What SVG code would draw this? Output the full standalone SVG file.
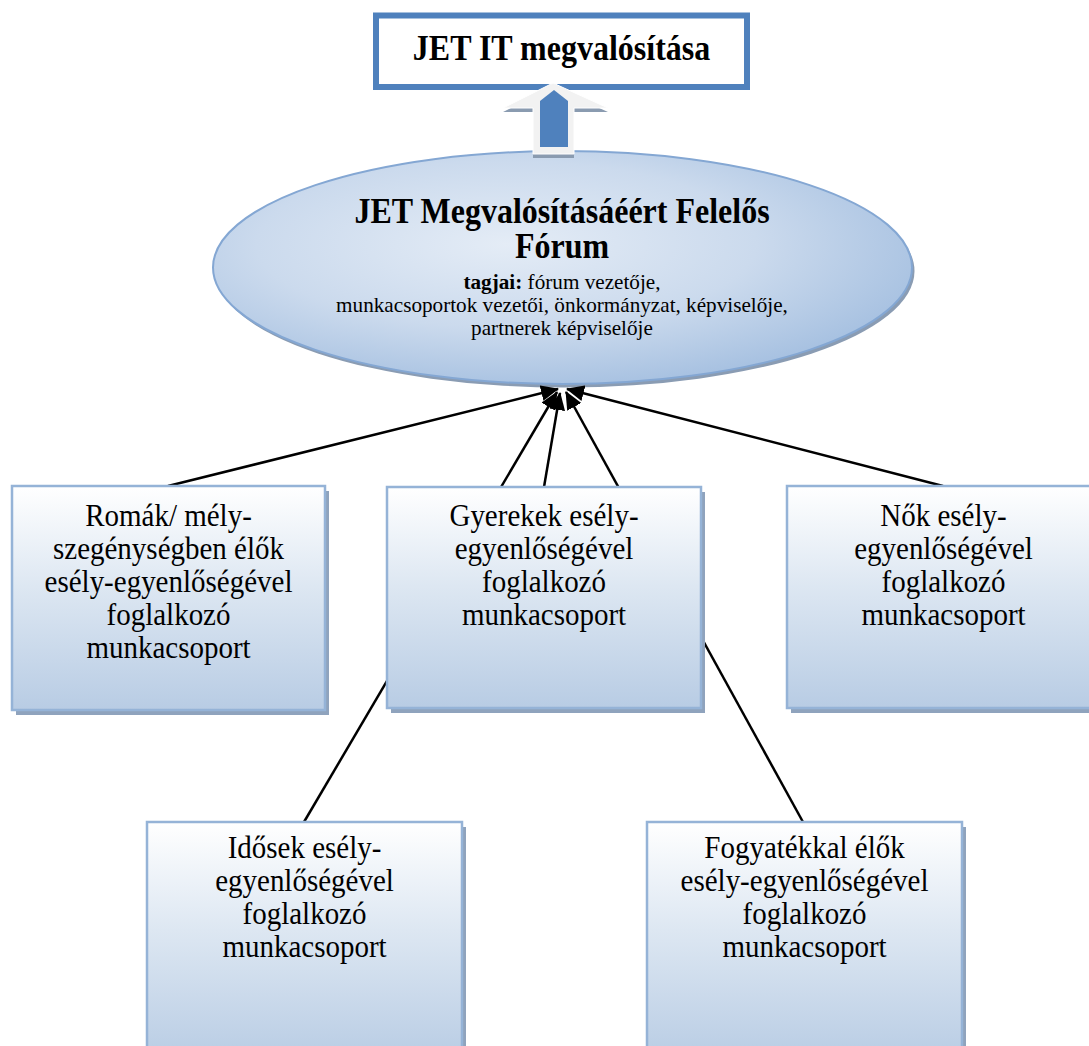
<svg xmlns="http://www.w3.org/2000/svg" width="1089" height="1046" viewBox="0 0 1089 1046">
<defs>
  <linearGradient id="boxGrad" x1="0" y1="0" x2="0" y2="1">
    <stop offset="0" stop-color="#ffffff"/>
    <stop offset="0.45" stop-color="#dde7f2"/>
    <stop offset="1" stop-color="#b8cce4"/>
  </linearGradient>
  <radialGradient id="ellGrad" cx="0.42" cy="0.4" r="0.65">
    <stop offset="0" stop-color="#e4ecf6"/>
    <stop offset="0.55" stop-color="#cbdaed"/>
    <stop offset="1" stop-color="#a4bfe0"/>
  </radialGradient>
  <marker id="ah" markerUnits="userSpaceOnUse" markerWidth="18" markerHeight="16" refX="17" refY="8" orient="auto">
    <path d="M0,0 L18,8 L0,16 z" fill="#000"/>
  </marker>
</defs>
<style>
  .shadow { fill: #8fa3bd; }
  .box { fill: url(#boxGrad); stroke: #95b3d7; stroke-width: 2.5; }
  .btxt { font-family: "Liberation Serif", "Times New Roman", serif; font-size: 29px; fill: #000; text-anchor: middle; }
  .conn { stroke: #000; stroke-width: 2.5; fill: none; marker-end: url(#ah); }
  .serif { font-family: "Liberation Serif", "Times New Roman", serif; fill: #000; text-anchor: middle; }
</style>

<g id="node-top">
  <rect x="376" y="15.5" width="371" height="71.5" fill="#ffffff" stroke="#4f81bd" stroke-width="6"/>
  <text class="serif" transform="translate(561.5,60) scale(1,1.1)" font-size="32" font-weight="bold">JET IT megvalósítása</text>
</g>

<g id="node-forum">
  <ellipse cx="565" cy="271" rx="349.5" ry="116.5" fill="#8a9cb3"/>
  <ellipse cx="562.5" cy="267.5" rx="349.5" ry="116.5" fill="url(#ellGrad)" stroke="#84a7d3" stroke-width="2"/>
  <text class="serif" transform="translate(562,223) scale(1,1.1)" font-size="32" font-weight="bold">JET Megvalósításáéért Felelős</text>
  <text class="serif" transform="translate(562,258) scale(1,1.1)" font-size="32" font-weight="bold">Fórum</text>
  <text class="serif" transform="translate(562,289) scale(1.06,1)" font-size="20"><tspan font-weight="bold">tagjai:</tspan> fórum vezetője,</text>
  <text class="serif" transform="translate(562,312) scale(1.06,1)" font-size="20">munkacsoportok vezetői, önkormányzat, képviselője,</text>
  <text class="serif" transform="translate(562,335) scale(1.06,1)" font-size="20">partnerek képviselője</text>
</g>

<g id="arrow-up">
  <polygon points="553,87 608,112 574,112 574,158 533,158 533,112 503,112" fill="#8a9bb0"/>
  <polygon points="553,83 608,108 574,108 574,154 533,154 533,108 503,108" fill="#f2f2f2" stroke="#ffffff" stroke-width="1"/>
  <polygon points="554,90 568,101 568,147 540,147 540,101" fill="#4f81bd"/>
</g>

<g id="connectors">
  <line class="conn" x1="168" y1="486" x2="558" y2="389"/>
  <line class="conn" x1="304" y1="822" x2="557" y2="392"/>
  <line class="conn" x1="544" y1="487" x2="560" y2="393"/>
  <line class="conn" x1="803" y1="822" x2="566" y2="392"/>
  <line class="conn" x1="943" y1="486" x2="567" y2="389"/>
</g>

<g id="node-romak">
  <rect class="shadow" x="16" y="491" width="313" height="224"/>
  <rect class="box" x="12" y="486" width="313" height="224"/>
  <text class="btxt" transform="translate(168.5,526) scale(1,1.1)">Romák/ mély-</text>
  <text class="btxt" transform="translate(168.5,559) scale(1,1.1)">szegénységben élők</text>
  <text class="btxt" transform="translate(168.5,592) scale(1,1.1)">esély-egyenlőségével</text>
  <text class="btxt" transform="translate(168.5,625) scale(1,1.1)">foglalkozó</text>
  <text class="btxt" transform="translate(168.5,658) scale(1,1.1)">munkacsoport</text>
</g>

<g id="node-gyerekek">
  <rect class="shadow" x="391" y="492" width="314" height="221"/>
  <rect class="box" x="387" y="487" width="314" height="221"/>
  <text class="btxt" transform="translate(544,526) scale(1,1.1)">Gyerekek esély-</text>
  <text class="btxt" transform="translate(544,559) scale(1,1.1)">egyenlőségével</text>
  <text class="btxt" transform="translate(544,592) scale(1,1.1)">foglalkozó</text>
  <text class="btxt" transform="translate(544,625) scale(1,1.1)">munkacsoport</text>
</g>

<g id="node-nok">
  <rect class="shadow" x="791" y="491" width="313" height="222"/>
  <rect class="box" x="787" y="486" width="313" height="222"/>
  <text class="btxt" transform="translate(943.5,526) scale(1,1.1)">Nők esély-</text>
  <text class="btxt" transform="translate(943.5,559) scale(1,1.1)">egyenlőségével</text>
  <text class="btxt" transform="translate(943.5,592) scale(1,1.1)">foglalkozó</text>
  <text class="btxt" transform="translate(943.5,625) scale(1,1.1)">munkacsoport</text>
</g>

<g id="node-idosek">
  <rect class="shadow" x="151" y="827" width="315" height="240"/>
  <rect class="box" x="147" y="822" width="315" height="240"/>
  <text class="btxt" transform="translate(304.5,858) scale(1,1.1)">Idősek esély-</text>
  <text class="btxt" transform="translate(304.5,891) scale(1,1.1)">egyenlőségével</text>
  <text class="btxt" transform="translate(304.5,924) scale(1,1.1)">foglalkozó</text>
  <text class="btxt" transform="translate(304.5,957) scale(1,1.1)">munkacsoport</text>
</g>

<g id="node-fogyatekkal">
  <rect class="shadow" x="651" y="827" width="315" height="240"/>
  <rect class="box" x="647" y="822" width="315" height="240"/>
  <text class="btxt" transform="translate(804.5,858) scale(1,1.1)">Fogyatékkal élők</text>
  <text class="btxt" transform="translate(804.5,891) scale(1,1.1)">esély-egyenlőségével</text>
  <text class="btxt" transform="translate(804.5,924) scale(1,1.1)">foglalkozó</text>
  <text class="btxt" transform="translate(804.5,957) scale(1,1.1)">munkacsoport</text>
</g>
</svg>
